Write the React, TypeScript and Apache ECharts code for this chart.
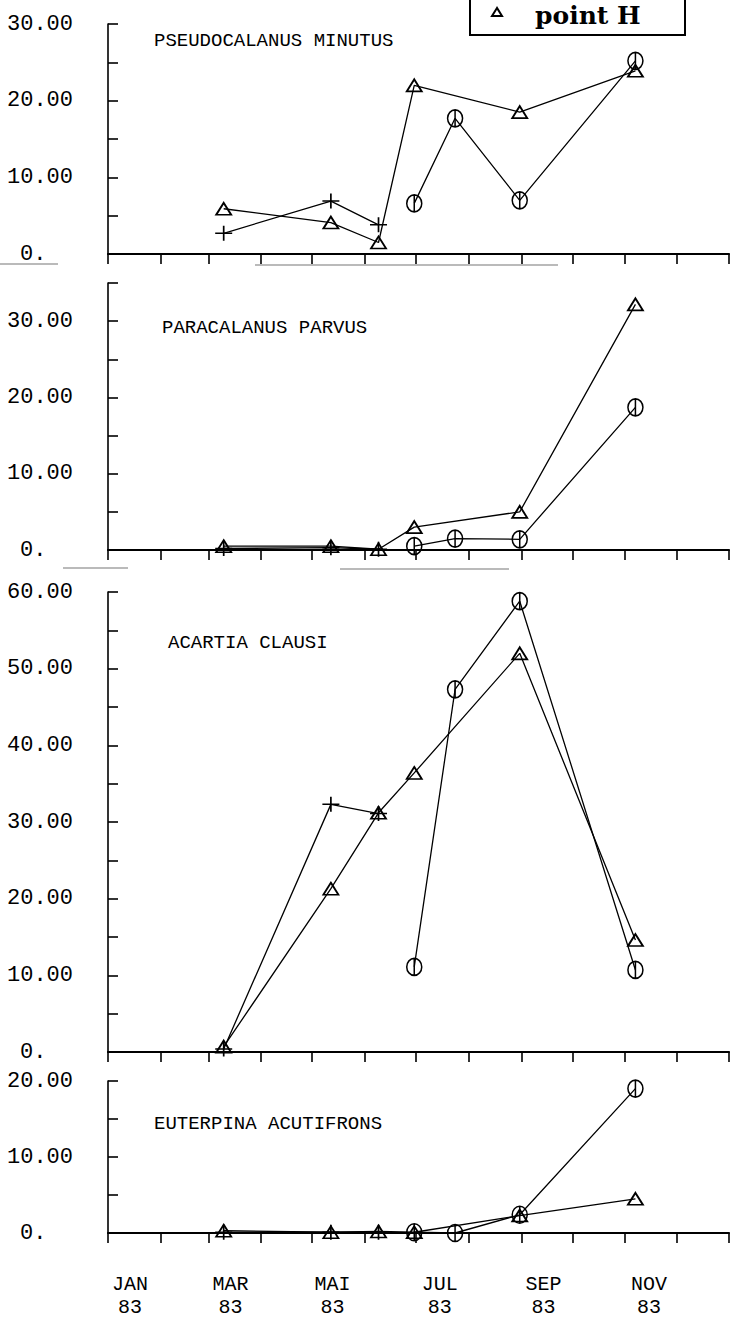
import React, { useEffect, useRef } from 'react';
import * as echarts from 'echarts';

// ---- data (day of year 1983 for each sampling date) ----
const sampleDays = [68, 131, 159, 180, 204, 242, 310];

const monthStarts = [0, 31, 59, 90, 120, 151, 181, 212, 243, 273, 304, 334, 365];
const monthLabelDays = [13, 72, 132, 195, 256, 318];
const monthLabels = ['JAN\n83', 'MAR\n83', 'MAI\n83', 'JUL\n83', 'SEP\n83', 'NOV\n83'];

const panelTitles = ['PSEUDOCALANUS MINUTUS', 'PARACALANUS PARVUS', 'ACARTIA CLAUSI', 'EUTERPINA ACUTIFRONS'];
const panelMax = [30, 35, 60, 20];
const yTickStep = 5;

// Pseudocalanus minutus
const pseudoCross = [2.7, 6.9, 3.8, null, null, null, null];
const pseudoTri = [5.9, 4.1, 1.5, 22.0, null, 18.5, 23.9];
const pseudoCircle = [null, null, null, 6.6, 17.7, 7.0, 25.2];

// Paracalanus parvus
const paraCross = [0.2, 0.3, 0.1, null, null, null, null];
const paraTri = [0.5, 0.5, 0.1, 3.0, null, 5.0, 32.2];
const paraCircle = [null, null, null, 0.5, 1.5, 1.4, 18.7];

// Acartia clausi
const acartiaCross = [0.4, 32.3, 31.1, null, null, null, null];
const acartiaTri = [0.7, 21.3, 31.2, 36.4, null, 52.0, 14.6];
const acartiaCircle = [null, null, null, 11.1, 47.3, 58.8, 10.7];

// Euterpina acutifrons
const euterCross = [0.1, 0.1, 0.1, null, null, null, null];
const euterTri = [0.3, 0.1, 0.2, 0.1, null, 2.3, 4.5];
const euterCircle = [null, null, null, 0.1, 0.0, 2.4, 19.0];

const panelSeries = [
  [pseudoCross, pseudoTri, pseudoCircle],
  [paraCross, paraTri, paraCircle],
  [acartiaCross, acartiaTri, acartiaCircle],
  [euterCross, euterTri, euterCircle],
];
const seriesNames = ['point F', 'point H', 'point G'];

// ---- layout ----
const gridTops = [24, 283, 592, 1081];
const gridHeights = [230, 267, 460, 152];
const titleTops = [31, 318, 633, 1114];
const titleLefts = [154, 162, 168, 154];

const MONO = '"Liberation Mono", "DejaVu Sans Mono", monospace';

const SYMBOLS = [
  'path://M0,10L20,10M10,0L10,20',
  'triangle',
  'path://M0,10A10,10 0 1,0 20,10A10,10 0 1,0 0,10ZM10,0L10,20',
];
const SIZES: any[] = [[17, 15], [15, 12], [15, 17]];

export default function App() {
  const ref = useRef<HTMLDivElement>(null);

  useEffect(() => {
    if (!ref.current) return;
    const chart = echarts.init(ref.current, null, { renderer: 'svg' });

    const grids = gridTops.map((t, i) => ({
      left: 108,
      right: 2,
      top: t,
      height: gridHeights[i],
      outerBoundsMode: 'none',
      containLabel: false,
    }));

    const xAxes = gridTops.map((_, i) => ({
      type: 'value',
      gridIndex: i,
      min: 0,
      max: 365,
      axisLine: { show: true, onZero: false, lineStyle: { color: '#000', width: 2.2 } },
      axisTick: {
        show: true,
        inside: false,
        length: 10,
        customValues: monthStarts,
        lineStyle: { color: '#000', width: 1.6 },
      },
      axisLabel: {
        show: i === 3,
        customValues: monthLabelDays,
        margin: 40,
        fontFamily: MONO,
        fontSize: 20,
        lineHeight: 23,
        color: '#000',
        align: 'center',
        formatter: (v: number) => {
          const k = monthLabelDays.indexOf(v);
          return k >= 0 ? monthLabels[k] : '';
        },
      },
      splitLine: { show: false },
    }));

    const yAxes = gridTops.map((_, i) => ({
      type: 'value',
      gridIndex: i,
      min: 0,
      max: panelMax[i],
      interval: yTickStep,
      axisLine: { show: true, lineStyle: { color: '#000', width: 1.6 } },
      axisTick: { show: true, inside: true, length: 10, lineStyle: { color: '#000', width: 1.6 } },
      axisLabel: {
        show: true,
        margin: 101,
        align: 'left',
        fontFamily: MONO,
        fontSize: 22,
        color: '#000',
        formatter: (v: number) => {
          if (v % 10 !== 0) return '';
          if (v === 0) return '{z|0.}';
          return v.toFixed(2);
        },
        rich: {
          z: { padding: [0, 0, 0, 13], fontFamily: MONO, fontSize: 22, color: '#000' },
        },
      },
      splitLine: { show: false },
    }));

    const series: any[] = [];
    panelSeries.forEach((group, gi) => {
      group.forEach((vals, k) => {
        series.push({
          type: 'line',
          name: seriesNames[k],
          xAxisIndex: gi,
          yAxisIndex: gi,
          data: sampleDays
            .map((d, j) => (vals[j] == null ? null : [d, vals[j]]))
            .filter((p) => p !== null),
          symbol: SYMBOLS[k],
          symbolSize: SIZES[k],
          showSymbol: true,
          showAllSymbol: true,
          itemStyle: { color: 'transparent', borderColor: '#000', borderWidth: k === 1 ? 1.8 : 1.6 },
          lineStyle: { color: '#000', width: 1.3 },
          emphasis: { disabled: true },
          silent: true,
          z: 3,
        });
      });
    });

    const titles = panelTitles.map((t, i) => ({
      text: t,
      left: titleLefts[i],
      top: titleTops[i],
      padding: 0,
      textStyle: { fontFamily: MONO, fontSize: 19, fontWeight: 'normal', color: '#000' },
    }));

    chart.setOption({
      animation: false,
      backgroundColor: '#fff',
      title: titles,
      grid: grids,
      xAxis: xAxes,
      yAxis: yAxes,
      series,
      graphic: [
        {
          type: 'rect',
          shape: { x: 470, y: -20, width: 215, height: 55 },
          style: { fill: '#fff', stroke: '#000', lineWidth: 2 },
          z: 10,
        },
        {
          type: 'polygon',
          shape: { points: [[497, 8], [492, 16], [502, 16]] },
          style: { fill: 'none', stroke: '#000', lineWidth: 2 },
          z: 11,
        },
        {
          type: 'text',
          x: 535,
          y: 15,
          style: {
            text: 'point H',
            font: 'bold 25px "DejaVu Serif"',
            fill: '#000',
            verticalAlign: 'middle',
            align: 'left',
          },
          z: 11,
        },
        { type: 'line', shape: { x1: 0, y1: 264, x2: 58, y2: 264 }, style: { stroke: '#777', lineWidth: 1.2 } },
        { type: 'line', shape: { x1: 255, y1: 265, x2: 558, y2: 265 }, style: { stroke: '#777', lineWidth: 1.2 } },
        { type: 'line', shape: { x1: 63, y1: 568, x2: 128, y2: 568 }, style: { stroke: '#777', lineWidth: 1.2 } },
        { type: 'line', shape: { x1: 340, y1: 569, x2: 509, y2: 569 }, style: { stroke: '#777', lineWidth: 1.2 } },
      ],
    });

    return () => chart.dispose();
  }, []);

  return (
    <div
      ref={ref}
      style={{ position: 'absolute', left: 0, top: 0, width: 731, height: 1320, background: '#fff' }}
    />
  );
}
